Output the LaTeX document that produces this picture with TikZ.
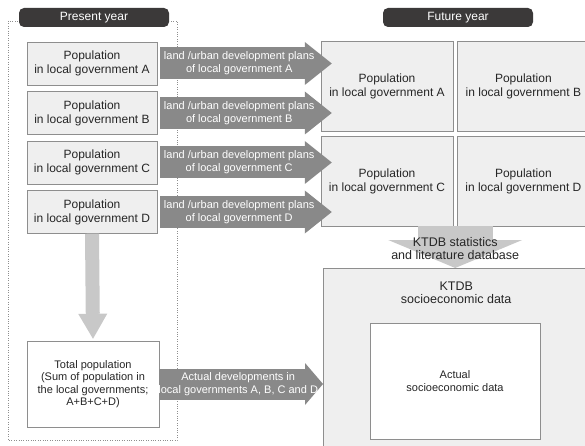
\documentclass[tikz,border=0pt]{standalone}
\usepackage{fontspec}
\setmainfont{Liberation Sans}
\usetikzlibrary{positioning,calc,arrows.meta}

\definecolor{boxfill}{HTML}{EFEFEF}
\definecolor{boxline}{HTML}{8E8E8E}
\definecolor{labelfill}{HTML}{3B3939}
\definecolor{planfill}{HTML}{898989}
\definecolor{sourcefill}{HTML}{C8C8C8}
\definecolor{inktext}{HTML}{262626}

\begin{document}
\begin{tikzpicture}[x=1pt, y=-1pt,
    every node/.style={font=\fontsize{12}{14}\selectfont, text=inktext,
                       align=center, inner sep=0pt},
    year label/.style={fill=labelfill, text=white, rounded corners=5pt,
                       minimum width=150pt, minimum height=19pt},
    present box/.style={draw=boxline, fill=boxfill,
                        minimum width=130pt, minimum height=43pt},
    future box/.style={draw=boxline, fill=boxfill,
                       minimum width=132pt, minimum height=90pt},
    white box/.style={draw=boxline, fill=white},
    plan arrow/.style={draw=planfill, line width=32pt,
                       -{Triangle[width=43pt, length=27pt, line width=0pt]}},
    plan text/.style={text=white, font=\fontsize{11}{13}\selectfont},
    source arrow/.style={draw=sourcefill},
    source text/.style={font=\fontsize{12.5}{12.5}\selectfont}]

  \path[use as bounding box, clip] (0,0) rectangle (585,446);

  % Frame round the present year column
  \draw[boxline, dotted] (8,21) rectangle (177,440);

  % Year headings
  \node[year label] (present year) at (94,17.5) {Present year};
  \node[year label] (future year) at (458,17.5) {Future year};

  % Future year populations
  \node[future box] (future A) at (387,86.5)
       {Population\\in local government A};
  \node[future box, right=4pt of future A] (future B)
       {Population\\in local government B};
  \node[future box, below=4pt of future A] (future C)
       {Population\\in local government C};
  \node[future box, right=4pt of future C] (future D)
       {Population\\in local government D};

  % Present year populations and their plans, one row per government
  \foreach \i/\y in {A/63.5, B/113, C/162.5, D/212} {
    \node[present box] (present \i) at (92,\y)
         {Population\\in local government \i};
    \draw[plan arrow] ([xshift=3pt]present \i.east)
                   -- ([xshift=11pt]present \i.east -| future A.west);
    \node[plan text] (plan \i) at ([xshift=82pt]present \i.east)
         {land /urban development plans\\of local government \i};
  }

  % Total of the present year
  \node[white box, minimum width=132pt, minimum height=86pt,
        font=\fontsize{11}{12.5}\selectfont] (total) at (93,384)
       {Total population\\(Sum of population in\\the local governments;\\A+B+C+D)};
  \draw[source arrow, line width=14pt,
        -{Triangle[width=29pt, length=25pt, line width=0pt]}]
       (present D.south) -- ([yshift=2pt]total.north);

  % KTDB data
  \node[future box, anchor=north west, minimum width=266pt,
        minimum height=200pt] (ktdb) at (323,268) {};
  \node[source text, below=14pt of ktdb.north] (ktdb label)
       {KTDB\\socioeconomic data};
  \node[white box, minimum width=170pt, minimum height=116pt,
        font=\fontsize{11}{13}\selectfont] (actual) at (455,381)
       {Actual\\socioeconomic data};

  % Statistics into KTDB
  \coordinate (source) at ($(future C.south east)!.5!(future D.south west)$);
  \draw[source arrow, line width=75pt,
        -{Triangle[width=134pt, length=28pt, line width=0pt]}]
       (source) -- (source |- ktdb.north);
  \node[source text] (source label) at ([yshift=-22.5pt]source)
       {KTDB statistics\\and literature database};

  % Actual developments into KTDB
  \draw[plan arrow, line width=31pt,
        -{Triangle[width=42pt, length=18pt, line width=0pt]}]
       (total.east) -- (total.east -| ktdb.west);
  \node[plan text] (actual label) at ([xshift=79pt]total.east)
       {Actual developments in\\local governments A, B, C and D};

\end{tikzpicture}
\end{document}
